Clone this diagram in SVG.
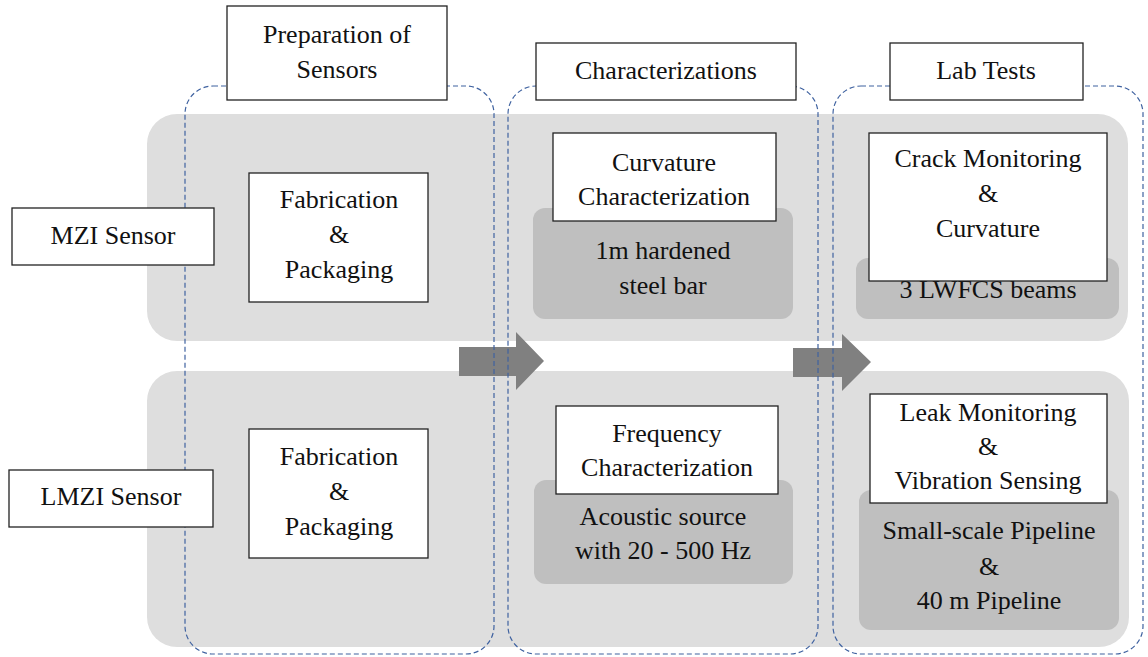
<svg xmlns="http://www.w3.org/2000/svg" width="1148" height="657" viewBox="0 0 1148 657">
<style>
text{font-size:26px;fill:#111;text-anchor:middle}
.row{fill:#dedede}
.dk{fill:#bfbfbf}
.box{fill:#fff;stroke:#222;stroke-width:1.3}
.cont{fill:none;stroke:#3f62a0;stroke-width:1.2;stroke-dasharray:5 3}
.arr{fill:#808080}
</style>
<rect class="row" x="147" y="114" width="981" height="227" rx="30"/>
<rect class="row" x="147" y="371" width="982" height="276" rx="30"/>
<g id="connectors">
<polygon class="arr" points="459,347 516,347 516,332 544,361 516,390 516,376 459,376"/>
<polygon class="arr" points="793,348 842,348 842,334 871,362 842,391 842,377 793,377"/>
</g>
<g id="containers">
<rect class="cont" x="185" y="86" width="309" height="568" rx="28"/>
<rect class="cont" x="508" y="86" width="310" height="568" rx="28"/>
<rect class="cont" x="833" y="86" width="310" height="568" rx="28"/>
</g>
<g font-family="Liberation Serif, Times New Roman, serif">
<g id="hdr-prep"><rect class="box" x="227" y="6" width="220" height="94"/><text x="337" y="43">Preparation of</text><text x="337" y="78">Sensors</text></g>
<g id="hdr-char"><rect class="box" x="536" y="43" width="260" height="57"/><text x="666" y="79">Characterizations</text></g>
<g id="hdr-lab"><rect class="box" x="890" y="43" width="193" height="57"/><text x="986" y="79">Lab Tests</text></g>
<g id="mzi"><rect class="box" x="12" y="208" width="202" height="57"/><text x="113" y="244">MZI Sensor</text></g>
<g id="lmzi"><rect class="box" x="9" y="470" width="204" height="57"/><text x="111" y="505">LMZI Sensor</text></g>
<g id="fab1"><rect class="box" x="249" y="173" width="179" height="129"/><text x="339" y="208">Fabrication</text><text x="339" y="243">&amp;</text><text x="339" y="278">Packaging</text></g>
<g id="fab2"><rect class="box" x="249" y="429" width="179" height="129"/><text x="339" y="465">Fabrication</text><text x="339" y="500">&amp;</text><text x="339" y="535">Packaging</text></g>
<g id="steel"><rect class="dk" x="533" y="208" width="260" height="111" rx="12"/><text x="663" y="259">1m hardened</text><text x="663" y="294">steel bar</text></g>
<g id="curv"><rect class="box" x="553" y="133" width="223" height="88"/><text x="664" y="171">Curvature</text><text x="664" y="205">Characterization</text></g>
<g id="acoustic"><rect class="dk" x="534" y="480" width="259" height="104" rx="12"/><text x="663" y="525">Acoustic source</text><text x="663" y="559">with 20 - 500 Hz</text></g>
<g id="freq"><rect class="box" x="556" y="406" width="222" height="88"/><text x="667" y="442">Frequency</text><text x="667" y="476">Characterization</text></g>
<g id="beams"><rect class="dk" x="856" y="258" width="263" height="61" rx="12"/><text x="988" y="298">3 LWFCS beams</text></g>
<g id="crack"><rect class="box" x="869" y="133" width="238" height="148"/><text x="988" y="167">Crack Monitoring</text><text x="988" y="202">&amp;</text><text x="988" y="237">Curvature</text></g>
<g id="pipe"><rect class="dk" x="859" y="490" width="260" height="140" rx="12"/><text x="989" y="539">Small-scale Pipeline</text><text x="989" y="575">&amp;</text><text x="989" y="609">40 m Pipeline</text></g>
<g id="leak"><rect class="box" x="870" y="394" width="237" height="109"/><text x="988" y="421">Leak Monitoring</text><text x="988" y="455">&amp;</text><text x="988" y="489">Vibration Sensing</text></g>
</g>
</svg>
